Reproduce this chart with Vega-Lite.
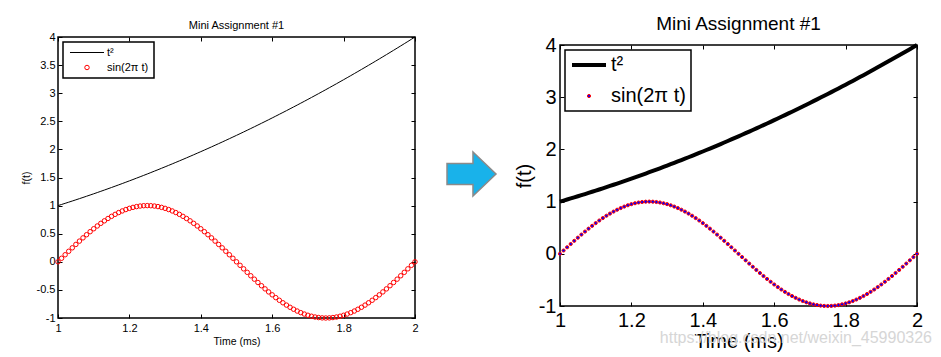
{
  "$schema": "https://vega.github.io/schema/vega-lite/v6.json",
  "padding": {"left": 20, "top": 15, "right": 0, "bottom": 0},
  "spacing": 8,
  "resolve": {"scale": {"color": "independent"}},
  "config": {
    "font": "Liberation Sans",
    "view": {"stroke": "black", "strokeWidth": 1.5},
    "axis": {"grid": false, "domain": false, "labelColor": "black", "titleColor": "black", "tickColor": "black", "tickWidth": 1, "labelFont": "Liberation Sans", "titleFont": "Liberation Sans", "titleFontWeight": "normal", "labelFlush": false, "labelOverlap": false},
    "title": {"font": "Liberation Sans", "fontWeight": "normal", "color": "black"},
    "legend": {"labelFont": "Liberation Sans", "labelColor": "black", "symbolStrokeWidth": 1}
  },
  "datasets": {
    "d": [
      {"t": 1, "sq": 1, "s": 0},
      {"t": 1.01, "sq": 1.0201, "s": 0.0628},
      {"t": 1.02, "sq": 1.0404, "s": 0.1253},
      {"t": 1.03, "sq": 1.0609, "s": 0.1874},
      {"t": 1.04, "sq": 1.0816, "s": 0.2487},
      {"t": 1.05, "sq": 1.1025, "s": 0.309},
      {"t": 1.06, "sq": 1.1236, "s": 0.3681},
      {"t": 1.07, "sq": 1.1449, "s": 0.4258},
      {"t": 1.08, "sq": 1.1664, "s": 0.4818},
      {"t": 1.09, "sq": 1.1881, "s": 0.5358},
      {"t": 1.1, "sq": 1.21, "s": 0.5878},
      {"t": 1.11, "sq": 1.2321, "s": 0.6374},
      {"t": 1.12, "sq": 1.2544, "s": 0.6845},
      {"t": 1.13, "sq": 1.2769, "s": 0.729},
      {"t": 1.14, "sq": 1.2996, "s": 0.7705},
      {"t": 1.15, "sq": 1.3225, "s": 0.809},
      {"t": 1.16, "sq": 1.3456, "s": 0.8443},
      {"t": 1.17, "sq": 1.3689, "s": 0.8763},
      {"t": 1.18, "sq": 1.3924, "s": 0.9048},
      {"t": 1.19, "sq": 1.4161, "s": 0.9298},
      {"t": 1.2, "sq": 1.44, "s": 0.9511},
      {"t": 1.21, "sq": 1.4641, "s": 0.9686},
      {"t": 1.22, "sq": 1.4884, "s": 0.9823},
      {"t": 1.23, "sq": 1.5129, "s": 0.9921},
      {"t": 1.24, "sq": 1.5376, "s": 0.998},
      {"t": 1.25, "sq": 1.5625, "s": 1},
      {"t": 1.26, "sq": 1.5876, "s": 0.998},
      {"t": 1.27, "sq": 1.6129, "s": 0.9921},
      {"t": 1.28, "sq": 1.6384, "s": 0.9823},
      {"t": 1.29, "sq": 1.6641, "s": 0.9686},
      {"t": 1.3, "sq": 1.69, "s": 0.9511},
      {"t": 1.31, "sq": 1.7161, "s": 0.9298},
      {"t": 1.32, "sq": 1.7424, "s": 0.9048},
      {"t": 1.33, "sq": 1.7689, "s": 0.8763},
      {"t": 1.34, "sq": 1.7956, "s": 0.8443},
      {"t": 1.35, "sq": 1.8225, "s": 0.809},
      {"t": 1.36, "sq": 1.8496, "s": 0.7705},
      {"t": 1.37, "sq": 1.8769, "s": 0.729},
      {"t": 1.38, "sq": 1.9044, "s": 0.6845},
      {"t": 1.39, "sq": 1.9321, "s": 0.6374},
      {"t": 1.4, "sq": 1.96, "s": 0.5878},
      {"t": 1.41, "sq": 1.9881, "s": 0.5358},
      {"t": 1.42, "sq": 2.0164, "s": 0.4818},
      {"t": 1.43, "sq": 2.0449, "s": 0.4258},
      {"t": 1.44, "sq": 2.0736, "s": 0.3681},
      {"t": 1.45, "sq": 2.1025, "s": 0.309},
      {"t": 1.46, "sq": 2.1316, "s": 0.2487},
      {"t": 1.47, "sq": 2.1609, "s": 0.1874},
      {"t": 1.48, "sq": 2.1904, "s": 0.1253},
      {"t": 1.49, "sq": 2.2201, "s": 0.0628},
      {"t": 1.5, "sq": 2.25, "s": 0},
      {"t": 1.51, "sq": 2.2801, "s": -0.0628},
      {"t": 1.52, "sq": 2.3104, "s": -0.1253},
      {"t": 1.53, "sq": 2.3409, "s": -0.1874},
      {"t": 1.54, "sq": 2.3716, "s": -0.2487},
      {"t": 1.55, "sq": 2.4025, "s": -0.309},
      {"t": 1.56, "sq": 2.4336, "s": -0.3681},
      {"t": 1.57, "sq": 2.4649, "s": -0.4258},
      {"t": 1.58, "sq": 2.4964, "s": -0.4818},
      {"t": 1.59, "sq": 2.5281, "s": -0.5358},
      {"t": 1.6, "sq": 2.56, "s": -0.5878},
      {"t": 1.61, "sq": 2.5921, "s": -0.6374},
      {"t": 1.62, "sq": 2.6244, "s": -0.6845},
      {"t": 1.63, "sq": 2.6569, "s": -0.729},
      {"t": 1.64, "sq": 2.6896, "s": -0.7705},
      {"t": 1.65, "sq": 2.7225, "s": -0.809},
      {"t": 1.66, "sq": 2.7556, "s": -0.8443},
      {"t": 1.67, "sq": 2.7889, "s": -0.8763},
      {"t": 1.68, "sq": 2.8224, "s": -0.9048},
      {"t": 1.69, "sq": 2.8561, "s": -0.9298},
      {"t": 1.7, "sq": 2.89, "s": -0.9511},
      {"t": 1.71, "sq": 2.9241, "s": -0.9686},
      {"t": 1.72, "sq": 2.9584, "s": -0.9823},
      {"t": 1.73, "sq": 2.9929, "s": -0.9921},
      {"t": 1.74, "sq": 3.0276, "s": -0.998},
      {"t": 1.75, "sq": 3.0625, "s": -1},
      {"t": 1.76, "sq": 3.0976, "s": -0.998},
      {"t": 1.77, "sq": 3.1329, "s": -0.9921},
      {"t": 1.78, "sq": 3.1684, "s": -0.9823},
      {"t": 1.79, "sq": 3.2041, "s": -0.9686},
      {"t": 1.8, "sq": 3.24, "s": -0.9511},
      {"t": 1.81, "sq": 3.2761, "s": -0.9298},
      {"t": 1.82, "sq": 3.3124, "s": -0.9048},
      {"t": 1.83, "sq": 3.3489, "s": -0.8763},
      {"t": 1.84, "sq": 3.3856, "s": -0.8443},
      {"t": 1.85, "sq": 3.4225, "s": -0.809},
      {"t": 1.86, "sq": 3.4596, "s": -0.7705},
      {"t": 1.87, "sq": 3.4969, "s": -0.729},
      {"t": 1.88, "sq": 3.5344, "s": -0.6845},
      {"t": 1.89, "sq": 3.5721, "s": -0.6374},
      {"t": 1.9, "sq": 3.61, "s": -0.5878},
      {"t": 1.91, "sq": 3.6481, "s": -0.5358},
      {"t": 1.92, "sq": 3.6864, "s": -0.4818},
      {"t": 1.93, "sq": 3.7249, "s": -0.4258},
      {"t": 1.94, "sq": 3.7636, "s": -0.3681},
      {"t": 1.95, "sq": 3.8025, "s": -0.309},
      {"t": 1.96, "sq": 3.8416, "s": -0.2487},
      {"t": 1.97, "sq": 3.8809, "s": -0.1874},
      {"t": 1.98, "sq": 3.9204, "s": -0.1253},
      {"t": 1.99, "sq": 3.9601, "s": -0.0628},
      {"t": 2, "sq": 4, "s": 0}
    ]
  },
  "hconcat": [
    {
      "width": 357,
      "height": 281,
      "title": {"text": "Mini Assignment #1", "fontSize": 11, "offset": 0.5},
      "view": {"stroke": "black", "strokeWidth": 1.5},
      "data": {"name": "d"},
      "layer": [
        {
          "mark": {"type": "line", "strokeWidth": 1},
          "encoding": {
            "x": {"field": "t", "type": "quantitative", "scale": {"domain": [1, 2], "nice": false, "zero": false},
                  "axis": {"orient": "top", "values": [1, 1.2, 1.4, 1.6, 1.8, 2], "labels": false, "title": null, "tickSize": -4}},
            "y": {"field": "sq", "type": "quantitative", "scale": {"domain": [-1, 4], "nice": false, "zero": false},
                  "axis": {"orient": "right", "values": [-1, -0.5, 0, 0.5, 1, 1.5, 2, 2.5, 3, 3.5, 4], "labels": false, "title": null, "tickSize": -4}},
            "color": {"datum": "t²", "type": "nominal",
              "scale": {"domain": ["t²", "sin(2π t)"], "range": ["black", "red"]},
              "legend": {"orient": "top-left", "offset": 5, "title": null, "padding": 5, "columns": 1, "strokeColor": "black", "fillColor": "white",
                "rowPadding": 3, "labelFontSize": 11,
                "encode": {
                  "legend": {"update": {"strokeWidth": {"value": 1.5}}},
                  "symbols": {"update": {
                    "x": {"value": 19},
                    "shape": {"signal": "datum.value == 't²' ? 'M-3.78,0H3.78' : 'circle'"},
                    "size": {"signal": "datum.value == 't²' ? 81 : 20"},
                    "stroke": {"signal": "datum.value == 't²' ? 'black' : 'red'"},
                    "fill": {"value": "transparent"},
                    "strokeWidth": {"value": 1},
                    "opacity": {"value": 1}
                  }},
                  "labels": {"update": {"x": {"value": 39}}}
                }}}
          }
        },
        {
          "mark": {"type": "point", "filled": false, "size": 20, "strokeWidth": 1, "opacity": 1},
          "encoding": {
            "x": {"field": "t", "type": "quantitative",
                  "axis": {"orient": "bottom", "values": [1, 1.2, 1.4, 1.6, 1.8, 2], "labelExpr": "'' + datum.value", "title": "Time (ms)", "tickSize": -4, "labelPadding": 8, "labelFontSize": 11, "titleFontSize": 10.5, "titlePadding": 3}},
            "y": {"field": "s", "type": "quantitative",
                  "axis": {"orient": "left", "values": [-1, -0.5, 0, 0.5, 1, 1.5, 2, 2.5, 3, 3.5, 4], "labelExpr": "'' + datum.value", "title": "f(t)", "tickSize": -4, "labelPadding": 7, "labelFontSize": 11, "titleFontSize": 10.5, "titlePadding": 5}},
            "color": {"datum": "sin(2π t)", "type": "nominal"}
          }
        }
      ],
      "resolve": {"axis": {"x": "independent", "y": "independent"}}
    },
    {
      "width": 77,
      "height": 274,
      "view": {"stroke": null},
      "data": {"values": [{"item": "arrow"}]},
      "mark": {"type": "point", "shape": "M-1,-0.43H0.06V-0.9L1,0L0.06,0.9V0.43H-1Z", "size": 2401, "filled": true, "fill": "#19b2ea", "stroke": "#8a8a8a", "strokeWidth": 1.5, "opacity": 1},
      "encoding": {
        "x": {"datum": 0.13, "type": "quantitative", "scale": {"domain": [-1, 1]}, "axis": null},
        "y": {"datum": 0, "type": "quantitative", "scale": {"domain": [-1, 1]}, "axis": null}
      }
    },
    {
      "spacing": -4,
      "resolve": {"scale": {"color": "independent"}},
      "vconcat": [
        {
          "width": 357,
          "height": 1,
          "title": {"text": "Mini Assignment #1", "fontSize": 19, "offset": 3},
          "view": {"stroke": null},
          "data": {"values": []},
          "mark": {"type": "point", "opacity": 0}
        },
        {
          "width": 357,
          "height": 261,
          "view": {"stroke": "black", "strokeWidth": 1.5},
          "layer": [
            {
              "data": {"name": "d"},
              "mark": {"type": "line", "strokeWidth": 4},
              "encoding": {
                "x": {"field": "t", "type": "quantitative", "scale": {"domain": [1, 2], "nice": false, "zero": false},
                      "axis": {"orient": "top", "values": [1, 1.2, 1.4, 1.6, 1.8, 2], "labels": false, "title": null, "tickSize": -4}},
                "y": {"field": "sq", "type": "quantitative", "scale": {"domain": [-1, 4], "nice": false, "zero": false},
                      "axis": {"orient": "right", "values": [-1, 0, 1, 2, 3, 4], "labels": false, "title": null, "tickSize": -4}},
                "color": {"datum": "t²", "type": "nominal",
                  "scale": {"domain": ["t²", "sin(2π t)"], "range": ["black", "red"]},
                  "legend": {"orient": "top-left", "offset": 5, "title": null, "padding": 5, "columns": 1, "strokeColor": "black", "fillColor": "white",
                    "rowPadding": 11, "labelFontSize": 20,
                    "encode": {
                      "legend": {"update": {"strokeWidth": {"value": 1.5}}},
                      "symbols": {"update": {
                        "x": {"value": 19},
                        "shape": {"signal": "datum.value == 't²' ? 'M-1.7,0H1.7' : 'circle'"},
                        "size": {"signal": "datum.value == 't²' ? 400 : 10"},
                        "stroke": {"signal": "datum.value == 't²' ? 'black' : 'red'"},
                        "fill": {"signal": "datum.value == 't²' ? 'transparent' : 'blue'"},
                        "strokeWidth": {"signal": "datum.value == 't²' ? 4 : 1"},
                        "opacity": {"value": 1}
                      }},
                      "labels": {"update": {"x": {"value": 41}}}
                    }}}
              }
            },
            {
              "data": {"name": "d"},
              "mark": {"type": "point", "filled": false, "fill": "blue", "size": 10, "strokeWidth": 1, "opacity": 1},
              "encoding": {
                "x": {"field": "t", "type": "quantitative",
                      "axis": {"orient": "bottom", "values": [1, 1.2, 1.4, 1.6, 1.8, 2], "labelExpr": "'' + datum.value", "title": "Time (ms)", "tickSize": -4, "labelPadding": 8, "labelFontSize": 20, "titleFontSize": 20, "titlePadding": 1}},
                "y": {"field": "s", "type": "quantitative",
                      "axis": {"orient": "left", "values": [-1, 0, 1, 2, 3, 4], "labelExpr": "'' + datum.value", "title": "f(t)", "tickSize": -4, "labelPadding": 8, "labelFontSize": 20, "titleFontSize": 20, "titlePadding": 4}},
                "color": {"datum": "sin(2π t)", "type": "nominal"}
              }
            },
            {
              "data": {"values": [{"label": "https://blog.csdn.net/weixin_45990326"}]},
              "mark": {"type": "text", "align": "right", "baseline": "middle", "dx": 15, "dy": 32, "fontSize": 16, "color": "#d6d6d6"},
              "encoding": {
                "text": {"field": "label"},
                "x": {"datum": 2, "type": "quantitative", "axis": null},
                "y": {"datum": -1, "type": "quantitative", "axis": null}
              }
            }
          ],
          "resolve": {"axis": {"x": "independent", "y": "independent"}}
        }
      ]
    }
  ]
}
